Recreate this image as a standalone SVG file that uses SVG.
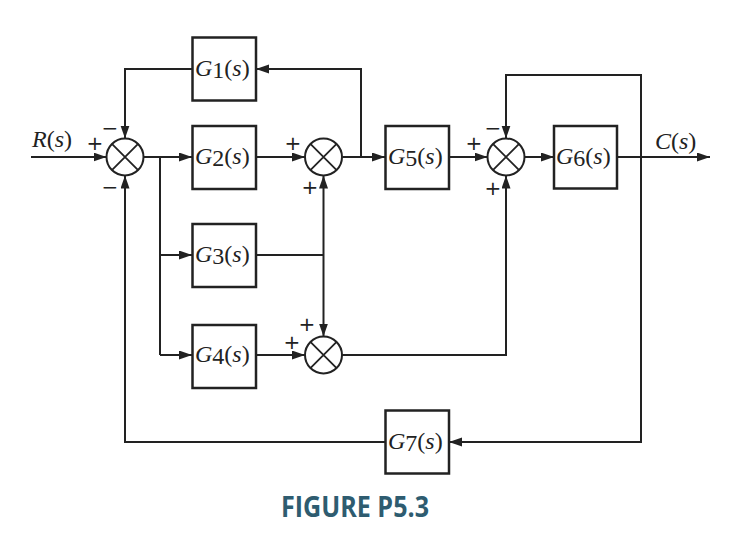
<svg xmlns="http://www.w3.org/2000/svg" width="732" height="551" viewBox="0 0 732 551">
<style>
.box{fill:#fff;stroke:#222;stroke-width:2.5}
.sum{fill:#fff;stroke:#222;stroke-width:2}
.x{stroke:#222;stroke-width:1.8;fill:none}
.w{fill:none;stroke:#222;stroke-width:2}
.a{fill:none;stroke:#222;stroke-width:2;marker-end:url(#ah)}
.lbl{font-family:"Liberation Serif","Times New Roman",serif;font-size:24px;fill:#222}
.sg{font-family:"DejaVu Sans",sans-serif;font-size:20px;fill:#222;text-anchor:middle}
.cap{font-family:"Open Sans","Liberation Sans",sans-serif;font-weight:bold;font-size:28px;fill:#2e5c70}
</style>
<defs>
<marker id="ah" markerUnits="userSpaceOnUse" markerWidth="14" markerHeight="10" refX="13" refY="4.5" orient="auto">
<path d="M0,0 L13,4.5 L0,9 z" fill="#222"/>
</marker>
</defs>
<rect width="732" height="551" fill="#fff"/>
<g id="connectors">
<path class="a" d="M31,157 H106.5"/>
<path class="a" d="M143.5,157 H192"/>
<path class="w" d="M160,157 V355"/>
<path class="a" d="M160,255 H192"/>
<path class="a" d="M160,355 H192"/>
<path class="a" d="M256,157 H305"/>
<path class="a" d="M342.5,157 H385"/>
<path class="a" d="M361,157 V69 H256"/>
<path class="a" d="M192,69 H125 V138.5"/>
<path class="a" d="M449,157 H487.5"/>
<path class="a" d="M524.5,157 H554"/>
<path class="a" d="M617,157 H710"/>
<path class="a" d="M641,157 V75 H506 V138.5"/>
<path class="a" d="M641,157 V442 H449"/>
<path class="a" d="M385,442 H125 V175.5"/>
<path class="w" d="M256,255 H323.5"/>
<path class="a" d="M323.5,255 V175.5"/>
<path class="a" d="M323.5,255 V336.5"/>
<path class="a" d="M256,355 H305"/>
<path class="a" d="M342,355 H506 V175.5"/>
</g>
<g id="S1">
<circle class="sum" cx="125" cy="157" r="18.5"/>
<path class="x" d="M111.9,143.9 L138.1,170.1 M138.1,143.9 L111.9,170.1"/>
<text class="sg" x="95" y="150">+</text>
<text class="sg" x="110" y="135">−</text>
<text class="sg" x="110" y="194">−</text>
</g>
<g id="S2">
<circle class="sum" cx="323.5" cy="157" r="18.5"/>
<path class="x" d="M310.4,143.9 L336.6,170.1 M336.6,143.9 L310.4,170.1"/>
<text class="sg" x="293" y="150">+</text>
<text class="sg" x="310" y="194">+</text>
</g>
<g id="S3">
<circle class="sum" cx="506" cy="157" r="18.5"/>
<path class="x" d="M492.9,143.9 L519.1,170.1 M519.1,143.9 L492.9,170.1"/>
<text class="sg" x="474" y="150">+</text>
<text class="sg" x="493" y="135">−</text>
<text class="sg" x="493" y="195">+</text>
</g>
<g id="S4">
<circle class="sum" cx="323.5" cy="355" r="18.5"/>
<path class="x" d="M310.4,341.9 L336.6,368.1 M336.6,341.9 L310.4,368.1"/>
<text class="sg" x="307" y="331">+</text>
<text class="sg" x="292" y="349">+</text>
</g>
<g id="G1">
<rect class="box" x="192.5" y="37.5" width="63.5" height="63"/>
<text class="lbl" x="195" y="76"><tspan font-style="italic">G</tspan><tspan dy="2">1</tspan><tspan dy="-2">(</tspan><tspan font-style="italic">s</tspan>)</text>
</g>
<g id="G2">
<rect class="box" x="192.5" y="126" width="63.5" height="63"/>
<text class="lbl" x="195" y="164"><tspan font-style="italic">G</tspan><tspan dy="2">2</tspan><tspan dy="-2">(</tspan><tspan font-style="italic">s</tspan>)</text>
</g>
<g id="G3">
<rect class="box" x="192.5" y="224" width="63.5" height="63"/>
<text class="lbl" x="195" y="262"><tspan font-style="italic">G</tspan><tspan dy="2">3</tspan><tspan dy="-2">(</tspan><tspan font-style="italic">s</tspan>)</text>
</g>
<g id="G4">
<rect class="box" x="192.5" y="325" width="63.5" height="63"/>
<text class="lbl" x="195" y="362"><tspan font-style="italic">G</tspan><tspan dy="2">4</tspan><tspan dy="-2">(</tspan><tspan font-style="italic">s</tspan>)</text>
</g>
<g id="G5">
<rect class="box" x="385.5" y="126" width="63.5" height="63"/>
<text class="lbl" x="388" y="164"><tspan font-style="italic">G</tspan><tspan dy="2">5</tspan><tspan dy="-2">(</tspan><tspan font-style="italic">s</tspan>)</text>
</g>
<g id="G6">
<rect class="box" x="554" y="126" width="63" height="62.5"/>
<text class="lbl" x="556" y="164"><tspan font-style="italic">G</tspan><tspan dy="2">6</tspan><tspan dy="-2">(</tspan><tspan font-style="italic">s</tspan>)</text>
</g>
<g id="G7">
<rect class="box" x="385.5" y="410.5" width="63.5" height="63"/>
<text class="lbl" x="388" y="449"><tspan font-style="italic">G</tspan><tspan dy="2">7</tspan><tspan dy="-2">(</tspan><tspan font-style="italic">s</tspan>)</text>
</g>
<g id="labels">
<text class="lbl" x="32" y="147"><tspan font-style="italic">R</tspan>(<tspan font-style="italic">s</tspan>)</text>
<text class="lbl" x="655" y="149"><tspan font-style="italic">C</tspan>(<tspan font-style="italic">s</tspan>)</text>
<text class="cap" x="281" y="517" textLength="148" lengthAdjust="spacingAndGlyphs">FIGURE P5.3</text>
</g>
</svg>
